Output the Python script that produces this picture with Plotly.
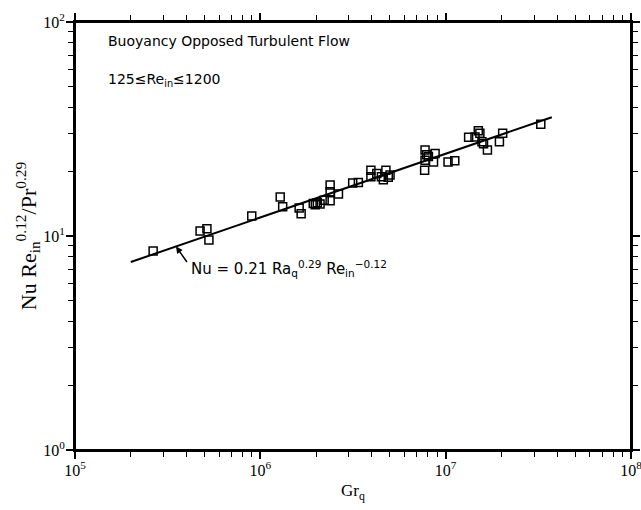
import plotly.graph_objects as go

# Measured Nusselt correlation data, buoyancy-opposed turbulent flow
gr_q = [2.64e5, 4.73e5, 5.15e5, 5.28e5, 8.99e5,
        1.28e6, 1.32e6, 1.62e6, 1.66e6, 1.93e6, 1.98e6, 2.03e6, 2.10e6,
        2.21e6, 2.38e6, 2.38e6, 2.38e6, 2.64e6, 3.15e6, 3.38e6,
        3.95e6, 3.95e6, 4.25e6, 4.50e6, 4.61e6, 4.76e6, 4.90e6, 5.01e6,
        7.70e6, 7.74e6, 7.74e6, 7.90e6, 8.07e6, 8.60e6, 8.77e6,
        1.03e7, 1.12e7, 1.33e7, 1.44e7, 1.50e7, 1.53e7, 1.57e7, 1.60e7,
        1.68e7, 1.95e7, 2.03e7, 3.26e7]
nu_group = [8.51, 10.55, 10.8, 9.57, 12.4,
            15.2, 13.7, 13.5, 12.7, 14.2, 14.0, 14.3, 14.1,
            14.7, 14.6, 17.3, 16.1, 15.7, 17.7, 17.8,
            20.3, 18.9, 19.6, 18.9, 18.3, 20.3, 18.8, 19.3,
            20.3, 25.2, 22.6, 24.0, 23.5, 22.2, 24.3,
            22.2, 22.5, 28.9, 29.0, 31.0, 30.2, 27.6, 27.0,
            25.2, 27.6, 30.2, 33.3]

# Correlation line end points
fit_x = [2.0e5, 3.74e7]
fit_y = [7.56, 35.9]

# Decade ticks and their labels
x_decades = [1e5, 1e6, 1e7, 1e8]
x_labels = ["10<sup>5</sup>", "10<sup>6</sup>", "10<sup>7</sup>", "10<sup>8</sup>"]
y_decades = [1, 10, 100]
y_labels = ["10<sup>0</sup>", "10<sup>1</sup>", "10<sup>2</sup>"]

serif = "Liberation Serif"
sans = "DejaVu Sans"


def all_ticks(decades, labels):
    """Decade and intermediate (2..9) tick positions; only decades are labelled."""
    vals, text = [], []
    for i, d in enumerate(decades):
        vals.append(d)
        text.append(labels[i])
        if i < len(decades) - 1:
            for k in range(2, 10):
                vals.append(d * k)
                text.append("")
    return vals, text


xv, xt = all_ticks(x_decades, x_labels)
yv, yt = all_ticks(y_decades, y_labels)

fig = go.Figure()
fig.add_trace(go.Scatter(
    x=fit_x, y=fit_y, mode="lines",
    line=dict(color="black", width=2), showlegend=False, hoverinfo="skip"))
fig.add_trace(go.Scatter(
    x=gr_q, y=nu_group, mode="markers",
    marker=dict(symbol="square-open", size=8, color="black",
                line=dict(color="black", width=1.5)),
    showlegend=False))
# Invisible trace carrying the overlay axes with the long decade ticks
fig.add_trace(go.Scatter(x=fit_x, y=fit_y, xaxis="x2", yaxis="y2", mode="lines",
                         line=dict(width=0), opacity=0, showlegend=False, hoverinfo="skip"))

base = dict(type="log", showgrid=False, zeroline=False, automargin=False)

fig.update_layout(
    xaxis=dict(**base, range=[5, 8], tickvals=xv, ticktext=xt,
               showline=True, linecolor="black", linewidth=2, mirror="ticks",
               ticks="outside", ticklen=5, tickwidth=1.2, tickcolor="black",
               ticklabeloverflow="allow",
               tickfont=dict(family=serif, size=16, color="black"),
               title=dict(text="Gr<sub>q</sub>", font=dict(family=serif, size=17, color="black"),
                          standoff=6)),
    yaxis=dict(**base, range=[0, 2], tickvals=yv, ticktext=yt,
               showline=True, linecolor="black", linewidth=2, mirror="ticks",
               ticks="outside", ticklen=5, tickwidth=1.2, tickcolor="black",
               ticklabeloverflow="allow",
               tickfont=dict(family=serif, size=16, color="black"),
               title=dict(text="Nu Re<sub>in</sub><sup>0.12</sup>/Pr<sup>0.29</sup>",
                          font=dict(family=serif, size=22, color="black"), standoff=0)),
    xaxis2=dict(**base, range=[5, 8], overlaying="x", side="bottom", anchor="y2",
                tickvals=x_decades, showticklabels=False, showline=False, mirror="ticks",
                ticks="outside", ticklen=8, tickwidth=1.5, tickcolor="black"),
    yaxis2=dict(**base, range=[0, 2], overlaying="y", side="left", anchor="x2",
                tickvals=y_decades, showticklabels=False, showline=False, mirror="ticks",
                ticks="outside", ticklen=8, tickwidth=1.5, tickcolor="black"),
)

# Frame around the plotting area
fig.add_shape(type="rect", xref="paper", yref="paper", x0=0, y0=0, x1=1, y1=1,
              line=dict(color="black", width=2), fillcolor="rgba(0,0,0,0)", layer="above")

fig.add_annotation(xref="paper", yref="paper", x=0.055, y=0.955, xanchor="left", yanchor="middle",
                   text="Buoyancy Opposed Turbulent Flow", showarrow=False,
                   font=dict(family=sans, size=14, color="black"))
fig.add_annotation(xref="paper", yref="paper", x=0.055, y=0.865, xanchor="left", yanchor="middle",
                   text="125≤Re<sub>in</sub>≤1200", showarrow=False,
                   font=dict(family=sans, size=14, color="black"))
# Leader arrow from the equation to the correlation line
fig.add_annotation(xref="x", yref="y", x=5.545, y=0.951, text="",
                   showarrow=True, arrowhead=2, arrowsize=0.9, arrowwidth=1.5, arrowcolor="black",
                   ax=12, ay=17, standoff=0)
fig.add_annotation(xref="x", yref="y", x=5.615, y=0.850, xanchor="left", yanchor="middle",
                   text="Nu = 0.21 Ra<sub>q</sub><sup>0.29</sup> Re<sub>in</sub><sup>−0.12</sup>",
                   showarrow=False, font=dict(family=sans, size=15, color="black"))

fig.update_layout(
    width=641, height=510,
    margin=dict(l=75, r=10, t=22, b=60, autoexpand=False),
    plot_bgcolor="white", paper_bgcolor="white",
)

fig.write_html("out.html")
